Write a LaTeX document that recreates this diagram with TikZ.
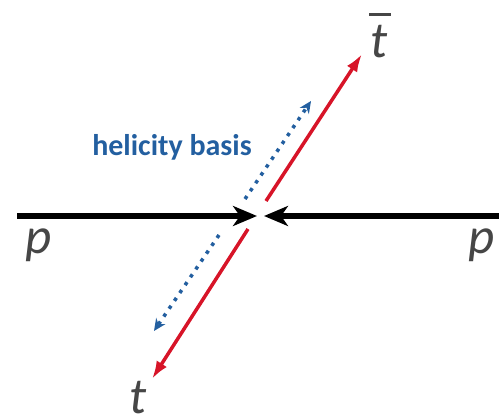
\documentclass[tikz,border=0pt]{standalone}
\usepackage{fontspec}
\setmainfont{Carlito}
\usetikzlibrary{arrows.meta}
\definecolor{hblue}{RGB}{35,95,160}
\definecolor{tred}{RGB}{215,20,40}
\definecolor{lbl}{RGB}{70,70,70}
\tikzset{
  beam/.style={line width=6.5pt,-{Stealth[length=24pt,width=20pt,inset=7pt]}},
  topq/.style={tred,line width=3.5pt,-{Latex[length=18pt,width=12pt]}},
  hel/.style={hblue,line width=3.5pt,dash pattern=on 3.5pt off 6pt,-{Stealth[length=12pt,width=11pt]}},
  lab/.style={lbl,font=\fontsize{51}{51}\selectfont\itshape,inner sep=0pt,anchor=base},
}
\begin{document}
\begin{tikzpicture}[x=1pt,y=-1pt]
\useasboundingbox (0,0) rectangle (499,415);
\coordinate (L0) at (17,216);
\coordinate (L1) at (257,216);
\coordinate (R0) at (510,216);
\coordinate (R1) at (264,216);
\coordinate (U0) at (266,201);
\coordinate (U1) at (362,54);
\coordinate (D0) at (248,229);
\coordinate (D1) at (152,379);
\coordinate (HU0) at (245,199);
\coordinate (HU1) at (311,101);
\coordinate (HD0) at (219,235);
\coordinate (HD1) at (154,331);
\draw[beam] (L0) -- (L1);
\draw[beam] (R0) -- (R1);
\draw[topq] (U0) -- (U1);
\draw[topq] (D0) -- (D1);
\draw[hel] (HU0) -- (HU1);
\draw[hel] (HD0) -- (HD1);
\node[lab] (pl) at (39,253) {p};
\node[lab] (pr) at (482,253) {p};
\node[lab] (tb) at (379,57) {\rlap{\hspace{-0.02em}\raisebox{0.8em}{\rule{0.42em}{0.06em}}}t};
\node[lab] (tt) at (138,413) {t};
\node[hblue,font=\fontsize{30}{30}\selectfont\bfseries,inner sep=0pt] (hb) at (172,147) {helicity basis};
\end{tikzpicture}
\end{document}
